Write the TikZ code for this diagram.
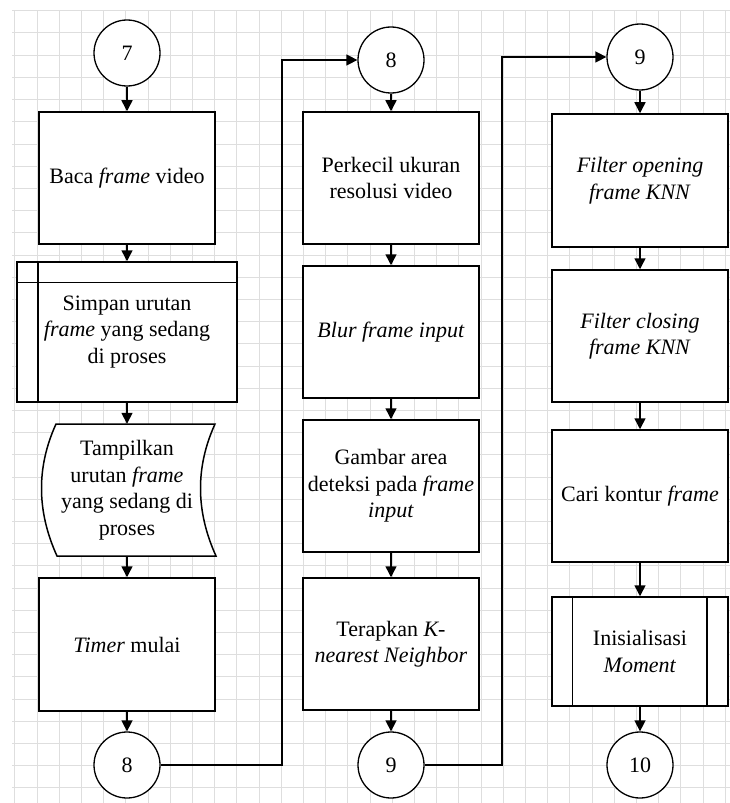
\documentclass[tikz,border=0pt]{standalone}
\usepackage{fontspec}
\setmainfont{Liberation Serif}
\usetikzlibrary{arrows.meta}
\begin{document}
\begin{tikzpicture}[x=1bp,y=-1bp,
  procbox/.style={draw, line width=1.5bp, fill=white, minimum width=176bp, minimum height=132bp, inner sep=0pt, align=center, font=\fontsize{22bp}{26.5bp}\selectfont},
  conn/.style={draw, circle, line width=1.3bp, fill=white, minimum size=66bp, inner sep=0pt, font=\fontsize{22bp}{26.5bp}\selectfont},
  arr/.style={line width=1.5bp, -{Triangle[length=11bp,width=11bp]}},
  link/.style={line width=1.5bp},
  gridline/.style={draw=black!13, line width=1bp}
]
\useasboundingbox[fill=white] (0,0) rectangle (730,803);
% background grid
\foreach \i in {0,...,32} { \draw[gridline] ({14.8+22.2*\i},10.8) -- ({14.8+22.2*\i},803); }
\foreach \j in {0,...,35} { \draw[gridline] (12,{10.8+22.2*\j}) -- (730,{10.8+22.2*\j}); }

% ---------- column 1 ----------
\node[conn] (c7) at (127,53) {7};
\node[procbox] (b1) at (127,178) {Baca \textit{frame} video};
\node[procbox, minimum width=220bp, minimum height=140bp] (pp1) at (127,332) {Simpan urutan\\\textit{frame} yang sedang\\di proses};
\draw[link] ([xshift=22bp]pp1.north west) -- ([xshift=22bp]pp1.south west);
\draw[link] ([yshift=-21bp]pp1.north west) -- ([yshift=-21bp]pp1.north east);
% display shape
\coordinate (dtl) at (56,424);
\coordinate (dtr) at (215,424);
\coordinate (dbr) at (216,556);
\coordinate (dbl) at (57,556);
\draw[line width=1.5bp, fill=white] (dtl) -- (dtr) .. controls (195,468) and (196,512) .. (dbr) -- (dbl) .. controls (37,512) and (36,468) .. (dtl) -- cycle;
\node[minimum width=150bp, minimum height=132bp, inner sep=0pt, align=center, font=\fontsize{22bp}{26.5bp}\selectfont] (d) at (127,490) {Tampilkan\\urutan \textit{frame}\\yang sedang di\\proses};
\node[procbox, minimum height=133bp] (b2) at (127,644.5) {\textit{Timer} mulai};
\node[conn] (c8a) at (127,765) {8};

\draw[arr] (c7) -- (b1);
\draw[arr] (b1) -- (pp1);
\draw[arr] (pp1) -- (d);
\draw[arr] (d) -- (b2);
\draw[arr] (b2) -- (c8a);

% ---------- column 2 ----------
\node[conn] (c8b) at (391,60) {8};
\node[procbox] (b3) at (391,178) {Perkecil ukuran\\resolusi video};
\node[procbox] (b4) at (391,332) {\textit{Blur frame input}};
\node[procbox] (b5) at (391,486) {Gambar area\\deteksi pada \textit{frame}\\\textit{input}};
\node[procbox] (b6) at (391,644) {Terapkan \textit{K-}\\\textit{nearest Neighbor}};
\node[conn] (c9a) at (391,765) {9};

\coordinate (j1) at (282,765);
\draw[arr] (c8a.east) -- (j1) |- (c8b.west);
\draw[arr] (c8b) -- (b3);
\draw[arr] (b3) -- (b4);
\draw[arr] (b4) -- (b5);
\draw[arr] (b5) -- (b6);
\draw[arr] (b6) -- (c9a);

% ---------- column 3 ----------
\node[conn] (c9b) at (640,57) {9};
\node[procbox, minimum height=133bp] (b7) at (640,180.5) {\textit{Filter opening}\\\textit{frame KNN}};
\node[procbox] (b8) at (640,336) {\textit{Filter closing}\\\textit{frame KNN}};
\node[procbox] (b9) at (640,496) {Cari kontur \textit{frame}};
\node[procbox, minimum height=109bp] (pp2) at (640,651.5) {Inisialisasi\\\textit{Moment}};
\draw[link] ([xshift=21bp]pp2.north west) -- ([xshift=21bp]pp2.south west);
\draw[link] ([xshift=-22bp]pp2.north east) -- ([xshift=-22bp]pp2.south east);
\node[conn] (c10) at (640,765) {10};

\coordinate (j2) at (502,765);
\draw[arr] (c9a.east) -- (j2) |- (c9b.west);
\draw[arr] (c9b) -- (b7);
\draw[arr] (b7) -- (b8);
\draw[arr] (b8) -- (b9);
\draw[arr] (b9) -- (pp2);
\draw[arr] (pp2) -- (c10);
\end{tikzpicture}
\end{document}
